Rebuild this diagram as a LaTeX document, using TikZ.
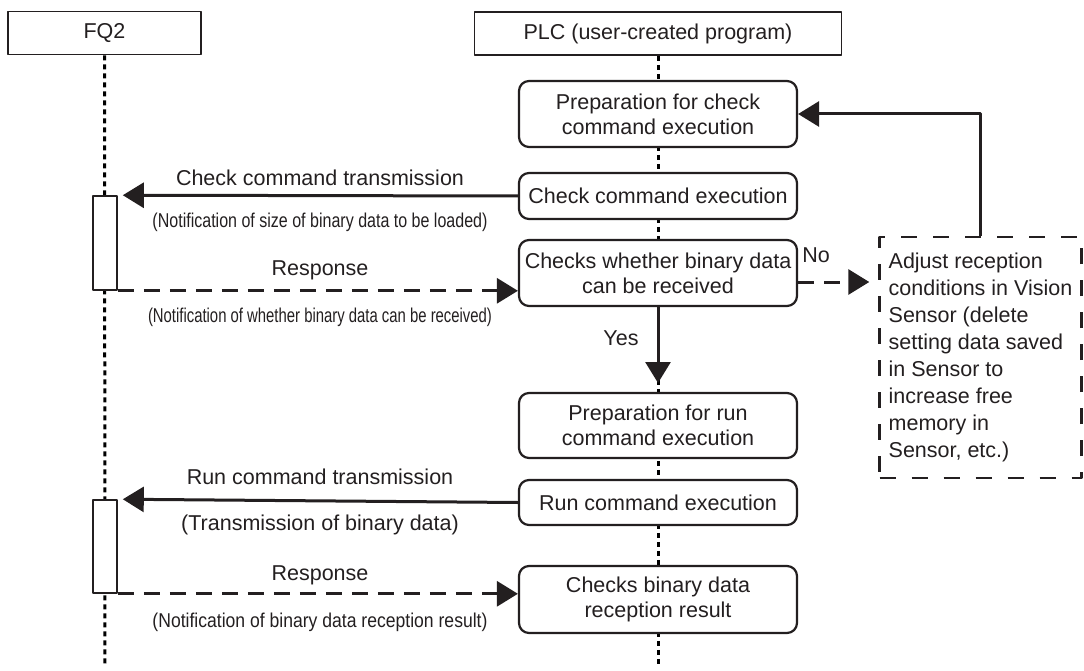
\documentclass[tikz,border=0pt]{standalone}
\usepackage{fontspec}
\setmainfont{Liberation Sans}
\usepackage{graphicx}
\usetikzlibrary{arrows.meta,backgrounds}
\definecolor{ink}{RGB}{35,31,32}
\newcommand{\narrowtext}[2]{\resizebox{#1}{\height}{#2}}

\begin{document}
\begin{tikzpicture}[x=1pt,y=-1pt,line join=round,>={Triangle[length=21pt,width=25pt]},ink]
	\tikzset{every node/.style={font=\fontsize{21.5}{25}\selectfont,text=ink},
		head/.style={draw,line width=1.8pt,fill=white,minimum height=43pt,inner sep=0pt},
		proc/.style={draw,line width=2.2pt,rounded corners=10pt,fill=white,minimum width=278pt,align=center,inner xsep=3pt,inner ysep=0pt},
		bar/.style={draw,line width=1.6pt,fill=white,minimum width=24pt,inner sep=0pt},
		note/.style={font=\fontsize{20}{24}\selectfont},
		lifeline/.style={line width=3pt,dash pattern=on 5pt off 4pt},
		msg/.style={->,line width=3pt},
		reply/.style={->,line width=3pt,dash pattern=on 16pt off 10pt}}
	\useasboundingbox (0,0) rectangle (1084,671);
	% lanes
	\node[head,minimum width=193pt] (fq) at (104.5,33) {FQ2};
	\node[head,minimum width=367pt] (plc) at (658,33.5) {PLC (user-created program)};
	\coordinate (fqend) at (105,665);
	\coordinate (plcend) at (658,665);
	% PLC steps
	\node[proc,minimum height=66pt] (prep) at (658,114) {Preparation for check\\command execution};
	\node[proc,minimum height=46pt] (chk) at (658,196) {Check command execution};
	\node[proc,minimum height=66pt] (recv) at (658,273) {Checks whether binary data\\can be received};
	\node[proc,minimum height=65pt] (prun) at (658,425.5) {Preparation for run\\command execution};
	\node[proc,minimum height=45pt] (run) at (658,502.5) {Run command execution};
	\node[proc,minimum height=67pt] (res) at (658,599.5) {Checks binary data\\reception result};
	\node[draw,line width=2.4pt,dash pattern=on 16pt off 16pt,minimum width=202pt,minimum height=241pt,
		align=left,font=\fontsize{21.5}{27}\selectfont] (adj) at (980.5,357.5)
		{Adjust reception\\conditions in Vision\\Sensor (delete\\setting data saved\\in Sensor to\\increase free\\memory in\\Sensor, etc.)};
	% FQ2 activity
	\node[bar,minimum height=94pt] (act1) at (105,243) {};
	\node[bar,minimum height=93pt] (act2) at (105,546.5) {};
	\begin{scope}[on background layer]
		\draw[lifeline] (fq.south) -- (fqend);
		\draw[lifeline] (plc.south) -- (plcend);
	\end{scope}
	% messages
	\draw[msg,shorten >=5pt] (chk.west) -- (act1.north east);
	\draw[reply] (act1.south east) -- (act1.south east -| recv.west);
	\draw[msg,shorten >=5pt] (run.west) -- (act2.north east);
	\draw[reply] (act2.south east) -- (act2.south east -| res.west);
	\node (l1) at (320,178) {Check command transmission};
	\node[note] (l2) at (320,222) {\narrowtext{335pt}{(Notification of size of binary data to be loaded)}};
	\node (l3) at (320,270) {Response};
	\node[note] (l4) at (320,317) {\narrowtext{344pt}{(Notification of whether binary data can be received)}};
	\node (l5) at (320,477) {Run command transmission};
	\node (l6) at (320,525) {(Transmission of binary data)};
	\node (l7) at (320,575) {Response};
	\node[note] (l8) at (320,622) {\narrowtext{335pt}{(Notification of binary data reception result)}};
	% branch
	\coordinate (yestip) at (658,383);
	\draw[msg] (recv.south) -- (yestip);
	\node (yes) at (621,338) {Yes};
	\draw[reply,shorten >=9pt] ([yshift=-9pt]recv.east) -- ([yshift=-9pt]recv.east -| adj.west);
	\node (no) at (816,255) {No};
	\draw[msg] (adj.north) |- (prep.east);
\end{tikzpicture}
\end{document}
